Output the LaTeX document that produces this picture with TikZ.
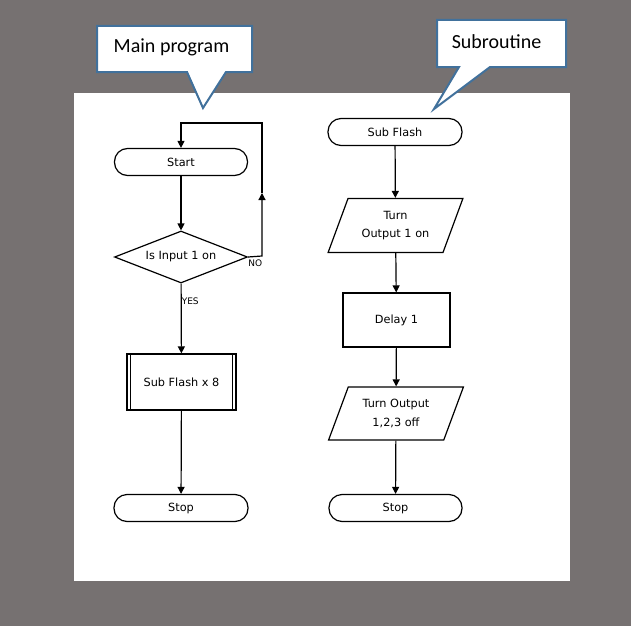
\documentclass[tikz,border=0pt]{standalone}
\usepackage{fontspec}
\setmainfont{DejaVu Sans}
\newfontfamily\calloutfont{Carlito}
\usetikzlibrary{shapes.geometric,arrows.meta}
\definecolor{bggray}{RGB}{118,113,113}
\definecolor{callblue}{RGB}{65,113,156}
\begin{document}
\begin{tikzpicture}[x=1pt,y=-1pt,
  every node/.style={inner sep=0pt,font=\fontsize{11.3}{18.5}\selectfont,align=center},
  term/.style={draw,line width=1.2pt,rectangle,rounded corners=13pt,minimum width=133pt,minimum height=27pt},
  proc/.style={draw,line width=1.2pt,rectangle},
  iobox/.style={draw,line width=1.2pt,trapezium,trapezium left angle=64,trapezium right angle=116,
    trapezium stretches=true,minimum width=135pt,minimum height=54pt},
  decbox/.style={draw,line width=1.2pt,diamond,aspect=2.56,minimum width=133pt,minimum height=52pt},
  flow/.style={line width=1.2pt,-{Triangle[width=7pt,length=7pt]}},
  lbl/.style={font=\fontsize{9}{9}\selectfont},
  calltext/.style={font=\calloutfont\fontsize{20}{20}\selectfont},
  callline/.style={draw=callblue,line width=2pt,fill=white,line join=miter}]
\useasboundingbox (0,0) rectangle (631,626);
\fill [bggray] (0,0) rectangle (631,626);
\fill [white] (74,93) rectangle (570,581);
% callouts
\coordinate (mainc) at (174.5,49);
\coordinate (maintip) at (203,108);
\coordinate (subc) at (501.5,43.5);
\coordinate (subtip) at (434,109);
\draw [callline] ([xshift=-77.5pt,yshift=23pt]mainc) -- ([xshift=77.5pt,yshift=23pt]mainc)
  -- ([xshift=77.5pt,yshift=-23pt]mainc) -- ([xshift=51.5pt,yshift=-23pt]mainc) -- (maintip)
  -- ([xshift=12.5pt,yshift=-23pt]mainc) -- ([xshift=-77.5pt,yshift=-23pt]mainc) -- cycle;
\draw [callline] ([xshift=-64.5pt,yshift=23.5pt]subc) -- ([xshift=64.5pt,yshift=23.5pt]subc)
  -- ([xshift=64.5pt,yshift=-23.5pt]subc) -- ([xshift=-11.5pt,yshift=-23.5pt]subc) -- (subtip)
  -- ([xshift=-42.5pt,yshift=-23.5pt]subc) -- ([xshift=-64.5pt,yshift=-23.5pt]subc) -- cycle;
\node [calltext] (mainlbl) at ([xshift=-3pt,yshift=2pt]mainc) {Main program};
\node [calltext] (sublbl) at ([xshift=-5pt,yshift=2pt]subc) {Subroutine};
% main program
\node [term] (start) at (181,162) {Start};
\node [decbox] (dec) at (181,257) {Is Input 1 on};
\node [proc,minimum width=109pt,minimum height=56pt] (sub8) at (181.5,382) {Sub Flash x 8};
\node [term,minimum width=134pt] (stopa) at (181,508) {Stop};
\draw [line width=1.2pt] ([xshift=4pt]sub8.north west) -- ([xshift=4pt]sub8.south west);
\draw [line width=1.2pt] ([xshift=-4pt]sub8.north east) -- ([xshift=-4pt]sub8.south east);
\draw [flow] (start) -- (dec);
\draw [flow] (dec) -- node [lbl,pos=0.25,anchor=west] (yes) {YES} (sub8);
\draw [flow] (sub8) -- (stopa);
\coordinate (loopb) at (262,256);
\coordinate (loopm) at (262,193);
\coordinate (loopt) at (262,123);
\coordinate (loopl) at (181,123);
\draw [flow] (dec.east) -- (loopb) -- (loopm);
\draw [flow] (loopm) -- (loopt) -- (loopl) -- (start.north);
\node [lbl,anchor=north west] (no) at ([yshift=-3pt]dec.east) {NO};
% subroutine
\node [term,minimum width=134pt] (subfl) at (395,132) {Sub Flash};
\node [iobox] (turn1) at (395.5,225.5) {Turn\\Output 1 on};
\node [proc,minimum width=107pt,minimum height=54pt] (delay) at (396.5,320) {Delay 1};
\node [iobox,minimum height=53pt] (turn2) at (396,413.5) {Turn Output\\1,2,3 off};
\node [term] (stopb) at (395.5,508) {Stop};
\draw [flow] (subfl) -- (turn1);
\draw [flow] (turn1) -- (delay);
\draw [flow] (delay) -- (turn2);
\draw [flow] (turn2) -- (stopb);
\end{tikzpicture}
\end{document}
